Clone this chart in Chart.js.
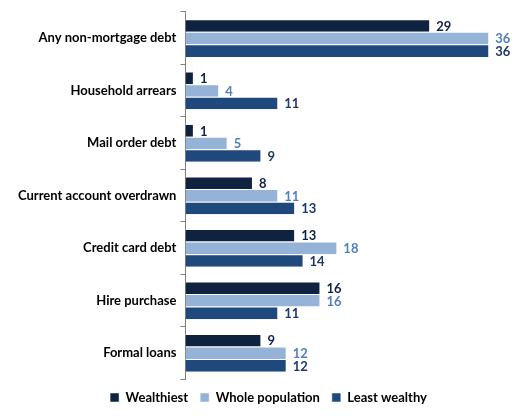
<!DOCTYPE html>
<html><head><script src="https://cdn.jsdelivr.net/npm/chart.js@4"></script>
<style>body{margin:0;background:#fff}#w{width:527px;height:416px}</style></head>
<body><div id="w"><canvas id="c"></canvas></div>
<script>
const categories=["Any non-mortgage debt","Household arrears","Mail order debt","Current account overdrawn","Credit card debt","Hire purchase","Formal loans"];
const wealthiest=[29,1,1,8,13,16,9];
const wholePopulation=[36,4,5,11,18,16,12];
const leastWealthy=[36,11,9,13,14,11,12];
const labelColors=["#0f2341","#4f81bd","#1f3864"];
const F="Lato";
const labelPlugin={id:"lbl",afterDatasetsDraw(ch){const c=ch.ctx;c.save();c.font="bold 13px "+F;c.textBaseline="middle";
ch.data.datasets.forEach((d,i)=>{ch.getDatasetMeta(i).data.forEach((b,j)=>{c.fillStyle=labelColors[i];c.fillText(d.data[j],b.x+6,b.y+1);});});c.restore();}};
new Chart(document.getElementById("c"),{type:"bar",
data:{labels:categories,datasets:[
{label:"Wealthiest",data:wealthiest,backgroundColor:"#0f2341"},
{label:"Whole population",data:wholePopulation,backgroundColor:"#95b3d7"},
{label:"Least wealthy",data:leastWealthy,backgroundColor:"#1f497d"}]},
options:{indexAxis:"y",responsive:true,maintainAspectRatio:false,animation:false,
datasets:{bar:{categoryPercentage:0.72,barPercentage:1,borderColor:"#ffffff",borderWidth:{right:1,top:1}}},
layout:{padding:{top:4,right:4,left:14,bottom:2}},
scales:{x:{min:0,max:40,display:false},
y:{grid:{display:true,drawOnChartArea:false,offset:true,tickLength:5,color:"#808080"},border:{color:"#808080"},
ticks:{color:"#000",font:{family:F,size:13,weight:"bold"},padding:4}}},
plugins:{legend:{position:"bottom",labels:{boxWidth:9,boxHeight:9,padding:12,color:"#000",font:{family:F,size:13,weight:"bold"}}},tooltip:{enabled:false}}},
plugins:[labelPlugin]});
</script></body></html>
